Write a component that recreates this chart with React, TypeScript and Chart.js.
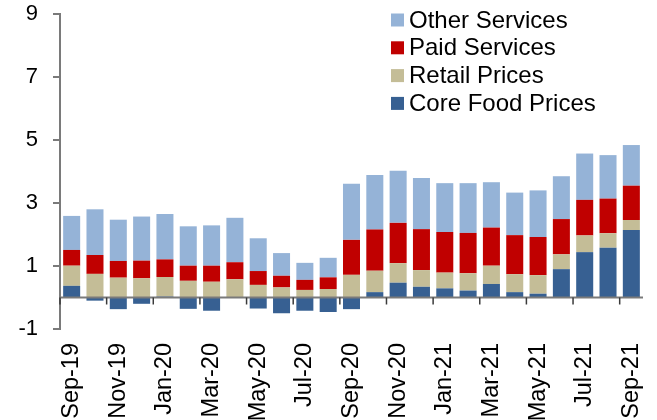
import React, { useEffect, useRef } from "react";
import { Chart, registerables } from "chart.js";

Chart.register(...registerables);

const categories = [
  "Sep-19", "Oct-19", "Nov-19", "Dec-19", "Jan-20", "Feb-20", "Mar-20", "Apr-20",
  "May-20", "Jun-20", "Jul-20", "Aug-20", "Sep-20", "Oct-20", "Nov-20", "Dec-20",
  "Jan-21", "Feb-21", "Mar-21", "Apr-21", "May-21", "Jun-21", "Jul-21", "Aug-21", "Sep-21",
];

const coreFoodPrices = [
  0.37, -0.1, -0.37, -0.2, 0.03, -0.36, -0.42, 0.0, -0.35, -0.5, -0.42, -0.46, -0.37,
  0.17, 0.47, 0.34, 0.29, 0.22, 0.43, 0.17, 0.12, 0.9, 1.44, 1.58, 2.14,
];
const retailPrices = [
  0.64, 0.75, 0.63, 0.61, 0.62, 0.53, 0.5, 0.58, 0.4, 0.32, 0.24, 0.27, 0.72,
  0.68, 0.62, 0.53, 0.5, 0.55, 0.58, 0.57, 0.59, 0.47, 0.53, 0.46, 0.32,
];
const paidServices = [
  0.5, 0.6, 0.53, 0.56, 0.56, 0.48, 0.51, 0.54, 0.44, 0.37, 0.32, 0.37, 1.11,
  1.31, 1.28, 1.3, 1.29, 1.28, 1.21, 1.24, 1.21, 1.12, 1.13, 1.1, 1.09,
];
const otherServices = [
  1.08, 1.45, 1.31, 1.4, 1.44, 1.25, 1.28, 1.41, 1.04, 0.72, 0.54, 0.62, 1.78,
  1.73, 1.65, 1.62, 1.55, 1.58, 1.44, 1.35, 1.48, 1.36, 1.47, 1.38, 1.29,
];

const yMin = -1;
const yMax = 9;
const yStep = 2;

const FONT = "'Liberation Sans', Arial, sans-serif";

const zeroAxisPlugin = {
  id: "zeroAxis",
  afterDatasetsDraw(chart: any) {
    const { ctx, chartArea, scales } = chart;
    const x = scales.x;
    const y = scales.y;
    const y0 = y.getPixelForValue(0);
    ctx.save();
    ctx.strokeStyle = "#7a7a7a";
    ctx.lineWidth = 2;
    ctx.beginPath();
    ctx.moveTo(chartArea.left, y0);
    ctx.lineTo(chartArea.right, y0);
    ctx.stroke();
    const half = (x.getPixelForValue(1) - x.getPixelForValue(0)) / 2;
    ctx.strokeStyle = "#3a3a3a";
    ctx.lineWidth = 1.5;
    for (let i = 0; i < categories.length; i += 2) {
      const px = x.getPixelForValue(i) - half;
      ctx.beginPath();
      ctx.moveTo(px, y0);
      ctx.lineTo(px, y0 + 7);
      ctx.stroke();
    }
    ctx.restore();
  },
};

const legendPlugin = {
  id: "boxLegend",
  afterDraw(chart: any) {
    const { ctx, chartArea } = chart;
    const items = chart.data.datasets.slice().reverse();
    const boxX = chartArea.left + 331;
    const firstY = chartArea.top + 6;
    const rowH = 27.8;
    const box = 13;
    ctx.save();
    ctx.font = `24px ${FONT}`;
    ctx.textBaseline = "middle";
    ctx.textAlign = "left";
    items.forEach((ds: any, i: number) => {
      const cy = firstY + i * rowH;
      ctx.fillStyle = ds.backgroundColor;
      ctx.fillRect(boxX, cy - box / 2, box, box);
      ctx.fillStyle = "#000000";
      ctx.fillText(ds.label, boxX + box + 5, cy + 1);
    });
    ctx.restore();
  },
};

export default function App() {
  const canvasRef = useRef<HTMLCanvasElement | null>(null);

  useEffect(() => {
    if (!canvasRef.current) return;
    const chart = new Chart(canvasRef.current, {
      type: "bar",
      data: {
        labels: categories,
        datasets: [
          { label: "Core Food Prices", data: coreFoodPrices, backgroundColor: "#376092" },
          { label: "Retail Prices", data: retailPrices, backgroundColor: "#C4BD97" },
          { label: "Paid Services", data: paidServices, backgroundColor: "#C00000" },
          { label: "Other Services", data: otherServices, backgroundColor: "#95B3D7" },
        ],
      },
      options: {
        responsive: false,
        animation: false,
        layout: { padding: { left: 0, right: 14, top: 0, bottom: 0 } },
        datasets: {
          bar: { barPercentage: 0.73, categoryPercentage: 1 },
        },
        plugins: {
          legend: { display: false },
          tooltip: { enabled: false },
        },
        scales: {
          x: {
            stacked: true,
            grid: { display: false, drawTicks: false },
            border: { display: false },
            ticks: {
              autoSkip: false,
              minRotation: 90,
              maxRotation: 90,
              padding: 14,
              color: "#000000",
              font: { family: FONT, size: 23.5 },
              callback: (_v: any, i: number) => (i % 2 === 0 ? categories[i] : null),
            },
            afterFit: (scale: any) => {
              scale.height = 91;
              scale.paddingLeft = 0;
              scale.paddingRight = 0;
            },
          },
          y: {
            stacked: true,
            min: yMin,
            max: yMax,
            grid: {
              drawOnChartArea: false,
              drawTicks: true,
              tickLength: 7,
              color: "#7a7a7a",
              lineWidth: 2,
            },
            border: { display: true, color: "#7a7a7a", width: 2 },
            ticks: {
              stepSize: yStep,
              padding: 15,
              color: "#000000",
              font: { family: FONT, size: 22 },
            },
            afterFit: (scale: any) => {
              scale.width = 60;
              scale.paddingTop = 14;
              scale.paddingBottom = 14;
            },
          },
        },
      },
      plugins: [zeroAxisPlugin, legendPlugin],
    });
    return () => chart.destroy();
  }, []);

  return (
    <div
      style={{
        position: "fixed",
        left: 0,
        top: 0,
        width: 657,
        height: 420,
        overflow: "hidden",
        background: "#ffffff",
      }}
    >
      <canvas ref={canvasRef} width={657} height={420} />
    </div>
  );
}
